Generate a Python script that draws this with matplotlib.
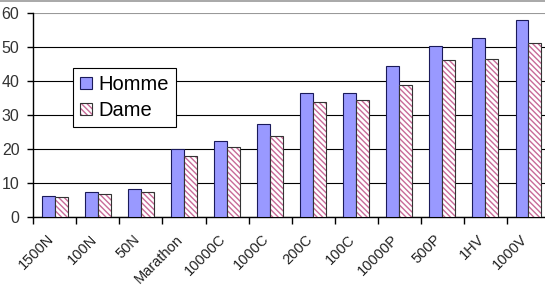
import numpy as np
import matplotlib
matplotlib.use('Agg')
import matplotlib.pyplot as plt
import matplotlib.transforms as mtransforms
from matplotlib.lines import Line2D
from matplotlib.legend_handler import HandlerTuple

plt.rcParams['font.family'] = ['Liberation Sans', 'DejaVu Sans']
plt.rcParams['hatch.linewidth'] = 1.0

# data
categories = ['1500N', '100N', '50N', 'Marathon', '10000C', '1000C',
              '200C', '100C', '10000P', '500P', '1HV', '1000V']
homme = [6.2, 7.4, 8.2, 19.9, 22.4, 27.4, 36.5, 36.5, 44.4, 50.3, 52.6, 57.9]
dame = [5.7, 6.6, 7.4, 17.9, 20.4, 23.8, 33.8, 34.5, 38.8, 46.2, 46.5, 51.2]

x = np.arange(len(categories))
w = 0.3

fig = plt.figure(figsize=(5.45, 2.91), dpi=100)
ax = fig.add_axes([0.0611, 0.2553, 0.948, 0.700])

b1 = ax.bar(x - w / 2, homme, w, color='#9999FF', edgecolor='#1a1a5a', linewidth=0.8, zorder=3)
b2 = ax.bar(x + w / 2, dame, w, color='white', hatch='\\\\\\\\\\\\', edgecolor='#C86A98',
            linewidth=0, zorder=3)
b3 = ax.bar(x + w / 2, dame, w, fill=False, edgecolor='#333333', linewidth=0.8, zorder=4)

ax.set_xlim(-0.5, len(categories) - 0.5)
ax.set_ylim(0, 60)
ax.set_yticks(np.arange(0, 61, 10))
ax.grid(axis='y', color='black', linewidth=0.8, zorder=0)
ax.yaxis.get_gridlines()[-1].set_color('#999999')

for s in ['top', 'right']:
    ax.spines[s].set_visible(False)
ax.spines['left'].set_linewidth(1.0)
ax.spines['bottom'].set_linewidth(1.0)

ax.set_xticks(x)
ax.set_xticklabels(categories, rotation=45, ha='right', va='top', rotation_mode='anchor')
ax.set_xticks(np.arange(-0.5, len(categories), 1), minor=True)
ax.tick_params(axis='x', which='major', length=0, pad=11, labelsize=10.5, labelcolor='#222222')
ax.tick_params(axis='x', which='minor', length=5, width=1.0, direction='out')
ax.tick_params(axis='y', length=4, width=1.0, pad=6, labelsize=11.5, labelcolor='#333333')

# shift the rotated labels a bit to the left, as in the original
shift = mtransforms.ScaledTranslation(-0.08, 0, fig.dpi_scale_trans)
for lab in ax.get_xticklabels():
    lab.set_transform(lab.get_transform() + shift)

leg = fig.legend([b1, (b2, b3)], ['Homme', 'Dame'],
                 handler_map={tuple: HandlerTuple(ndivide=1, pad=0)},
                 loc='upper left', bbox_to_anchor=(0.134, 0.766),
                 bbox_transform=fig.transFigure, fontsize=14.5,
                 fancybox=False, edgecolor='black', framealpha=1,
                 handlelength=0.6, handleheight=0.6, handletextpad=0.3,
                 borderpad=0.35, labelspacing=0.35, borderaxespad=0)
leg.get_frame().set_linewidth(0.8)

fig.add_artist(Line2D([0, 1], [0.997, 0.997], transform=fig.transFigure,
                      color='#999999', linewidth=1.2))

fig.savefig('out.png', dpi=100)
